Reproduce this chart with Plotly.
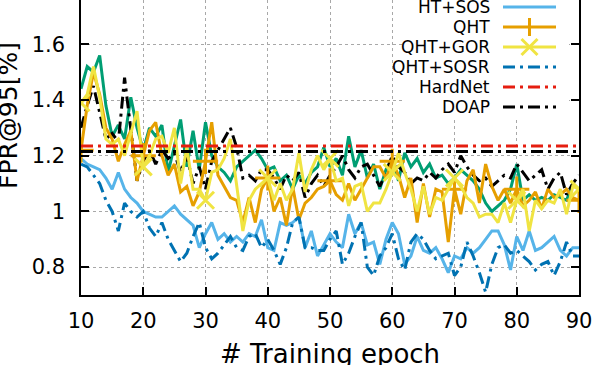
import plotly.graph_objects as go

# ----------------------------
# data
# ----------------------------
epochs = list(range(10, 91))

# series whose legend entries sit above the visible area
green_vals = [1.44, 1.52, 1.50, 1.56, 1.38, 1.27, 1.31, 1.26, 1.41, 1.30,
              1.22, 1.30, 1.27, 1.31, 1.14, 1.24, 1.33, 1.16, 1.29, 1.15,
              1.32, 1.20, 1.16, 1.14, 1.11, 1.16, 1.18, 1.20, 1.22, 1.19,
              1.15, 1.16, 1.11, 1.13, 1.08, 1.13, 1.10, 1.14, 1.16, 1.23,
              1.16, 1.19, 1.13, 1.27, 1.16, 1.22, 1.12, 1.17, 1.08, 1.15,
              1.19, 1.11, 1.21, 1.16, 1.19, 1.14, 1.17, 1.12, 1.13, 1.10,
              1.12, 1.15, 1.13, 1.11, 1.08, 1.03, 1.00, 1.02, 1.04, 1.08,
              1.17, 1.04, 1.06, 1.04, 1.05, 1.04, 1.06, 1.05, 1.04, 1.10,
              1.08]
black_vals = [1.30, 1.38, 1.45, 1.36, 1.26, 1.28, 1.25, 1.48, 1.30, 1.11,
              1.18, 1.22, 1.17, 1.22, 1.19, 1.21, 1.14, 1.20, 1.10, 1.16,
              1.08, 1.18, 1.22, 1.26, 1.30, 1.23, 1.12, 1.13, 1.11, 1.15,
              1.15, 1.12, 1.08, 1.13, 1.11, 1.14, 1.05, 1.10, 1.13, 1.09,
              1.13, 1.16, 1.20, 1.15, 1.12, 1.16, 1.17, 1.13, 1.09, 1.14,
              1.20, 1.16, 1.14, 1.10, 1.12, 1.11, 1.14, 1.12, 1.15, 1.17,
              1.14, 1.20, 1.16, 1.13, 1.11, 1.12, 1.09, 1.11, 1.13, 1.12,
              1.17, 1.14, 1.11, 1.13, 1.15, 1.08, 1.12, 1.14, 1.06, 1.10,
              1.13]

ht_sos = [1.19, 1.17, 1.16, 1.15, 1.12, 1.08, 1.14, 1.08, 1.05, 1.03,
          1.00, 0.99, 0.98, 0.98, 1.00, 1.02, 0.99, 0.97, 0.95, 0.87,
          0.92, 0.96, 0.90, 0.92, 0.89, 0.91, 0.89, 0.92, 0.91, 0.97,
          0.87, 0.86, 0.96, 0.95, 0.96, 0.98, 0.87, 0.93, 0.84, 0.88,
          0.92, 0.89, 0.87, 0.99, 0.92, 0.96, 0.88, 0.89, 0.81, 0.90,
          0.96, 0.92, 0.81, 0.84, 0.91, 0.86, 0.85, 0.87, 0.83, 0.78,
          0.84, 0.83, 0.87, 0.85, 0.87, 0.90, 0.93, 0.93, 0.88, 0.79,
          0.91, 0.86, 0.93, 0.86, 0.87, 0.89, 0.91, 0.86, 0.84, 0.87,
          0.87]
qht = [1.22, 1.38, 1.50, 1.42, 1.30, 1.26, 1.18, 1.24, 1.29, 1.11,
       1.20, 1.29, 1.32, 1.20, 1.13, 1.17, 1.07, 1.09, 1.02, 1.07,
       1.18, 1.32, 1.13, 1.09, 1.05, 1.04, 0.96, 1.05, 0.96, 1.08,
       1.12, 1.00, 1.05, 0.95, 1.09, 0.97, 1.03, 1.05, 1.08, 1.09,
       1.11, 1.06, 1.04, 1.10, 1.04, 1.08, 1.12, 1.16, 1.16, 1.12,
       1.18, 1.13, 1.05, 1.12, 0.96, 1.10, 0.98, 1.08, 1.07, 0.89,
       1.08, 0.99, 1.11, 1.15, 1.03, 1.17, 1.09, 1.04, 1.08, 1.03,
       1.08, 1.02, 1.04, 1.07, 1.01, 1.08, 1.05, 1.06, 1.08, 1.05,
       1.04]
qht_gor = [1.39, 1.42, 1.52, 1.41, 1.26, 1.24, 1.26, 1.20, 1.28, 1.36,
           1.16, 1.20, 1.26, 1.27, 1.21, 1.30, 1.10, 1.23, 1.08, 1.08,
           1.04, 1.14, 1.15, 1.19, 1.26, 1.10, 0.93, 1.04, 1.08, 1.10,
           1.12, 1.04, 1.10, 1.04, 1.08, 1.21, 1.07, 1.15, 1.20, 1.15,
           1.19, 1.11, 1.12, 1.02, 1.09, 1.10, 1.00, 1.03, 1.03, 1.08,
           1.14, 1.21, 1.14, 1.08, 1.00, 1.09, 0.99, 1.05, 1.04, 1.08,
           1.12, 1.09, 1.05, 1.03, 0.98, 0.99, 0.99, 0.96, 1.03, 0.96,
           1.04, 1.08, 0.93, 1.04, 1.01, 1.04, 1.03, 1.08, 0.99, 1.09,
           1.08]
qht_sosr = [1.17, 1.16, 1.13, 1.10, 1.04, 1.00, 0.93, 1.03, 1.00, 0.98,
            1.00, 0.94, 0.91, 0.96, 0.90, 0.86, 0.82, 0.85, 0.91, 0.96,
            0.87, 0.83, 0.85, 0.88, 0.91, 0.87, 0.86, 0.91, 0.92, 0.87,
            0.90, 0.86, 0.81, 0.87, 0.96, 0.98, 0.87, 0.87, 0.86, 0.86,
            0.90, 0.93, 0.81, 0.85, 0.91, 0.96, 0.80, 0.77, 0.84, 0.87,
            0.92, 0.83, 0.79, 0.89, 0.92, 0.90, 0.86, 0.83, 0.84, 0.85,
            0.77, 0.80, 0.89, 0.84, 0.78, 0.71, 0.81, 0.87, 0.88, 0.85,
            0.86, 0.84, 0.82, 0.79, 0.81, 0.82, 0.77, 0.82, 0.89, 0.84,
            0.84]
hardnet = [1.235, 1.235]
doap = [1.215, 1.215]
flat_x = [10, 90]

x_ticks = [10, 20, 30, 40, 50, 60, 70, 80, 90]

legend_names = ["HT+SOS", "QHT", "QHT+GOR", "QHT+SOSR", "HardNet", "DOAP"]

# ----------------------------
# styles
# ----------------------------
C_GREEN = "#009E73"
C_BLACK = "#000000"
C_LBLUE = "#56B4E9"
C_ORANGE = "#E69F00"
C_YELLOW = "#F0E442"
C_DBLUE = "#0072B2"
C_RED = "#E51E10"
DASHDOT = "12px,5px,3px,5px"
LW = 3

fig = go.Figure()


def add_line(x, y, color, dash="solid", name=""):
    fig.add_trace(go.Scatter(x=x, y=y, mode="lines", name=name,
                             line=dict(color=color, width=LW, dash=dash),
                             showlegend=False))


add_line(epochs, green_vals, C_GREEN)
add_line(epochs, black_vals, C_BLACK, DASHDOT)
add_line(epochs, ht_sos, C_LBLUE, name="HT+SOS")
add_line(epochs, qht, C_ORANGE, name="QHT")
fig.add_trace(go.Scatter(x=epochs[::10], y=qht[::10], mode="markers", showlegend=False,
                         marker=dict(symbol="cross-thin", size=18,
                                     line=dict(color=C_ORANGE, width=3))))
add_line(epochs, qht_gor, C_YELLOW, name="QHT+GOR")
fig.add_trace(go.Scatter(x=epochs[::10], y=qht_gor[::10], mode="markers", showlegend=False,
                         marker=dict(symbol="x-thin", size=17,
                                     line=dict(color=C_YELLOW, width=3))))
add_line(epochs, qht_sosr, C_DBLUE, DASHDOT, name="QHT+SOSR")
add_line(flat_x, hardnet, C_RED, DASHDOT, name="HardNet")
add_line(flat_x, doap, C_BLACK, DASHDOT, name="DOAP")

# ----------------------------
# hand-drawn legend (text left of the sample, like gnuplot)
# ----------------------------
W, H = 598, 365
L, R, B, T = 81, 19, 70, 0
PW, PH = W - L - R, H - B - T


def px(xp):
    return (xp - L) / PW


def py(yp):
    return (H - B - yp) / PH


shapes = [dict(type="rect", xref="paper", yref="paper", x0=px(402), x1=px(569),
               y0=py(118), y1=py(-5), fillcolor="white", line=dict(width=0),
               layer="above")]
annotations = []
legend_styles = [(C_LBLUE, "solid", None), (C_ORANGE, "solid", "+"),
                 (C_YELLOW, "solid", "x"), (C_DBLUE, "dashdot", None),
                 (C_RED, "dashdot", None), (C_BLACK, "dashdot", None)]
for i, (name, (col, dsh, mk)) in enumerate(zip(legend_names, legend_styles)):
    yc = 7 + i * 20
    annotations.append(dict(text=name, xref="paper", yref="paper", x=px(492), y=py(yc),
                            xanchor="right", yanchor="middle", showarrow=False,
                            font=dict(size=17, color="black")))
    shapes.append(dict(type="line", xref="paper", yref="paper", x0=px(503), x1=px(556),
                       y0=py(yc), y1=py(yc), layer="above",
                       line=dict(color=col, width=LW, dash=DASHDOT if dsh == "dashdot" else "solid")))
    xm = 529.5
    if mk == "+":
        shapes.append(dict(type="line", xref="paper", yref="paper", x0=px(xm), x1=px(xm),
                           y0=py(yc - 9), y1=py(yc + 9), layer="above",
                           line=dict(color=col, width=3)))
    if mk == "x":
        for s in (-1, 1):
            shapes.append(dict(type="line", xref="paper", yref="paper",
                               x0=px(xm - 8), x1=px(xm + 8),
                               y0=py(yc - 8 * s), y1=py(yc + 8 * s), layer="above",
                               line=dict(color=col, width=3)))

# axis titles (partly cut off by the page edge, as in the original)
annotations.append(dict(text="# Training epoch", xref="paper", yref="paper",
                        x=px(330), y=py(354), xanchor="center", yanchor="middle",
                        showarrow=False, font=dict(size=26, color="black")))
annotations.append(dict(text="FPR@95[%]", xref="paper", yref="paper",
                        x=px(8), y=py(116), xanchor="center", yanchor="middle",
                        textangle=-90, showarrow=False, font=dict(size=25, color="black")))

axis_common = dict(showline=True, linecolor="black", linewidth=1.5,
                   ticks="inside", ticklen=8, tickwidth=1.5, tickcolor="black",
                   showgrid=True, gridcolor="#a8a8a8", gridwidth=1, griddash="dot",
                   zeroline=False, tickfont=dict(size=21, color="black"))

fig.update_layout(
    width=W, height=H,
    margin=dict(l=L, r=R, t=T, b=B),
    paper_bgcolor="white", plot_bgcolor="white",
    font=dict(family="DejaVu Sans", color="black"),
    showlegend=False,
    shapes=shapes,
    annotations=annotations,
    xaxis=dict(range=[10, 90], tickvals=x_ticks, mirror=False,
               ticklabelstandoff=6, **axis_common),
    yaxis=dict(range=[0.70, 1.759], dtick=0.2, tick0=0.8, mirror="ticks",
               ticklabelstandoff=10, **axis_common),
)

# the page's default body margin would push the figure 8px right and down
fig.write_html("out.html", config={"displayModeBar": False},
               post_script="document.body.style.margin='0';")
